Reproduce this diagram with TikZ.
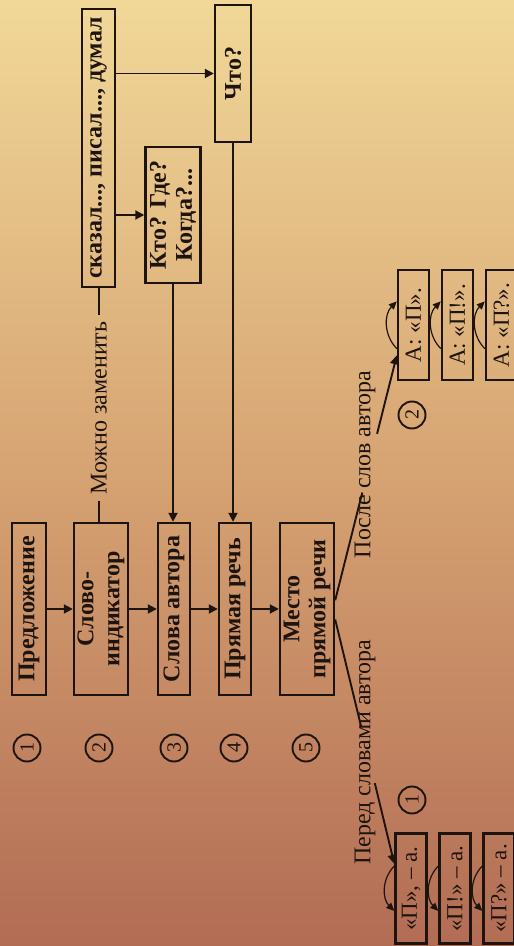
\documentclass[tikz,border=0pt]{standalone}
\usepackage{fontspec}
\setmainfont{Liberation Serif}
\usepackage{tikz}
\usetikzlibrary{arrows.meta}
\usetikzlibrary{calc}

\definecolor{bgtop}{RGB}{241,216,152}
\definecolor{bgmid}{RGB}{214,163,114}
\definecolor{bgbot}{RGB}{178,108,84}
\definecolor{ink}{RGB}{30,20,15}

\begin{document}
\begin{tikzpicture}[
    x=1pt, y=1pt, % one unit is one pixel of the page
    line width=1.9pt,
    color=ink,
    box/.style={
        draw, % frame round the text
        line width=2.4pt,
        rotate=90, % the whole scheme is read from bottom to top
        inner sep=0pt,
        align=center,
        font=\bfseries\fontsize{24}{26}\selectfont
    },
    smallbox/.style={box, font=\fontsize{23}{24}\selectfont, minimum width=110pt, minimum height=31pt},
    lbl/.style={rotate=90, inner xsep=6pt, inner ysep=0pt, font=\fontsize{24}{26}\selectfont},
    numc/.style={circle, draw, line width=1.9pt, minimum size=27pt, inner sep=0pt, rotate=90, font=\fontsize{20}{20}\selectfont},
    arr/.style={-{Triangle[length=9pt,width=9pt]}},
    arrs/.style={line width=1.2pt, -{Triangle[length=8pt,width=7pt]}}
]

% background
\fill[top color=bgtop, bottom color=bgbot, middle color=bgmid] (0,0) rectangle (514,946);
\useasboundingbox (0,0) rectangle (514,946);

% main column
\node[box, minimum width=172pt, minimum height=34pt] (pred) at (29,337) {Предложение};
\node[box, minimum width=172pt, minimum height=54pt] (slovo) at (101,337) {Слово-\\индикатор};
\node[box, minimum width=172pt, minimum height=32pt] (avt) at (174,337) {Слова автора};
\node[box, minimum width=172pt, minimum height=32pt] (pryam) at (235,337) {Прямая речь};
\node[box, minimum width=172pt, minimum height=54pt] (mesto) at (307,337) {Место\\прямой речи};

\draw[arr] (pred) -- (slovo);
\draw[arr] (slovo) -- (avt);
\draw[arr] (avt) -- (pryam);
\draw[arr] (pryam) -- (mesto);

\foreach \u/\n in {27/1, 99/2, 174/3, 234/4, 306/5}
    \node[numc] (num\n) at (\u,198) {\n};

% upper part
\node[box, minimum width=278pt, minimum height=33pt] (zamena) at (98.5,798) {сказал..., писал..., думал};
\node[box, minimum width=136pt, minimum height=55pt] (kto) at (173,731) {Кто? Где?\\Когда?...};
\node[box, minimum width=137pt, minimum height=36pt] (chto) at (233,872.5) {Что?};
\node[lbl] (zlab) at (99,538) {Можно заменить};

\draw (zlab.west) -- (zlab.west |- slovo.east);
\draw (zlab.east) -- (zlab.east |- zamena.west);
\draw[arr] (zamena.south |- kto) -- (kto);
\draw[arr] (zamena.south |- chto) -- (chto);
\draw[arr] (kto) -- (kto |- avt.east);
\draw[arr] (chto) -- (chto |- pryam.east);

% place of the direct speech
\foreach \i/\u/\t in {1/413.5/{А: «П».}, 2/457.5/{А: «П!».}, 3/501.5/{А: «П?».}}
    \node[smallbox] (A\i) at (\u,621) {\t};
\foreach \i/\u/\t in {1/411/{«П», – а.}, 2/455/{«П!» – а.}, 3/499/{«П?» – а.}}
    \node[smallbox] (B\i) at (\u,57.5) {\t};

\foreach \i in {1,2,3} {
    \draw[arrs] ($(A\i.north west)!0.29!(A\i.north east)$) to[bend left=45] ($(A\i.north west)!0.71!(A\i.north east)$);
    \draw[arrs] ($(B\i.north west)!0.70!(B\i.north east)$) to[bend right=45] ($(B\i.north west)!0.30!(B\i.north east)$);
}

\node[numc] (numA) at (412,531) {2};
\node[numc] (numB) at (412,146) {1};
\node[lbl] (posle) at (365,481.5) {После слов автора};
\node[lbl] (pered) at (365,194) {Перед словами автора};

\coordinate (q1) at ($(mesto.south west)!0.55!(mesto.south east)$);
\coordinate (q2) at ($(A1.north west)!0.23!(A1.north east)$);
\coordinate (q3) at ($(mesto.south west)!0.44!(mesto.south east)$);
\coordinate (q4) at ($(B1.north west)!0.72!(B1.north east)$);
\draw (q1) -- ($(q1)!0.44!(q2)$);
\draw[arr] ($(q1)!0.68!(q2)$) -- (q2);
\draw (q3) -- ($(q3)!0.44!(q4)$);
\draw[arr] ($(q3)!0.67!(q4)$) -- (q4);
\end{tikzpicture}
\end{document}
